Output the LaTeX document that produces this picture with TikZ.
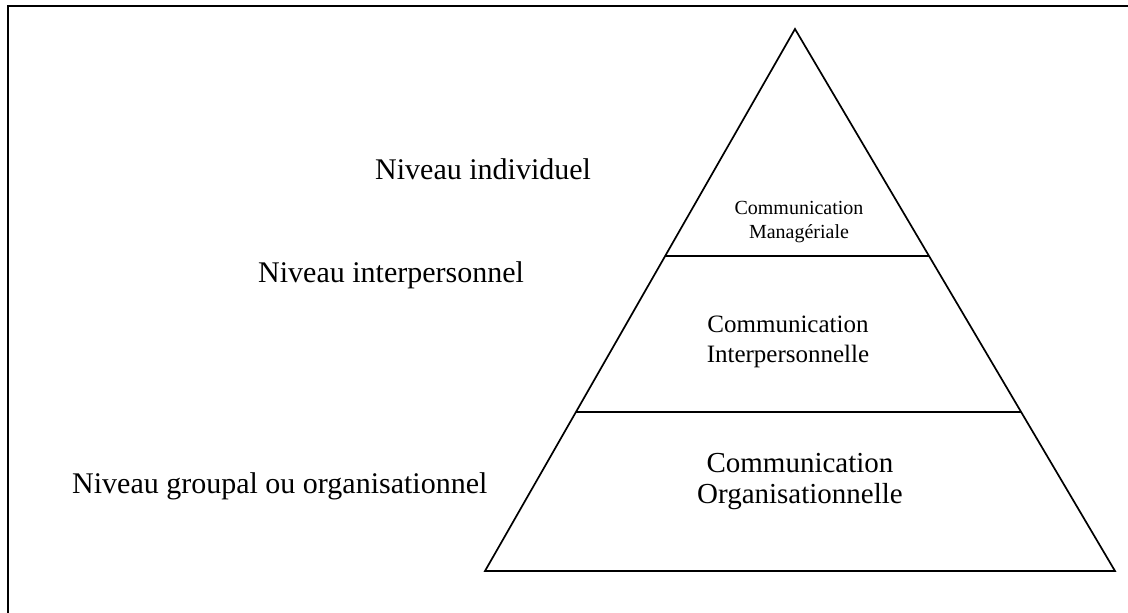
\documentclass[tikz,border=0pt]{standalone}
\usepackage{fontspec}
\setmainfont{Liberation Serif}
\usetikzlibrary{calc}
\begin{document}
\begin{tikzpicture}[x=1pt,y=-1pt,
  edge/.style={line width=1.7pt, line join=miter},
  frame/.style={line width=2.2pt},
  lbl/.style={anchor=base west, inner sep=0pt, font=\fontsize{30}{36}\selectfont},
  inner/.style={align=center, inner sep=0pt, anchor=base}]
\useasboundingbox (0,0) rectangle (1128,613);
\draw[frame] (1128,6) -- (8,6) -- (8,613);
\coordinate (apex) at (795,29);
\coordinate (bl) at (485,571);
\coordinate (br) at (1115,571);
\draw[edge] (apex) -- (bl) -- (br) -- cycle;
\coordinate (l1) at ($(apex)!0.4188!(bl)$);
\coordinate (r1) at ($(apex)!0.4188!(br)$);
\coordinate (l2) at ($(apex)!0.7066!(bl)$);
\coordinate (r2) at ($(apex)!0.7066!(br)$);
\draw[line width=1.4pt] (l1) -- (r1);
\draw[edge] (l2) -- (r2);
\node[lbl] (n1) at (375,179) {Niveau individuel};
\node[lbl] (n2) at (258,282) {Niveau interpersonnel};
\node[lbl] (n3) at (72,493) {Niveau groupal ou organisationnel};
\node[inner, font=\fontsize{20}{24}\selectfont] (c1) at (799,238) {Communication\\Managériale};
\node[inner, font=\fontsize{25}{30}\selectfont] (c2) at (788,362) {Communication\\Interpersonnelle};
\node[inner, font=\fontsize{29}{31}\selectfont] (c3) at (800,503) {Communication\\Organisationnelle};
\end{tikzpicture}
\end{document}
